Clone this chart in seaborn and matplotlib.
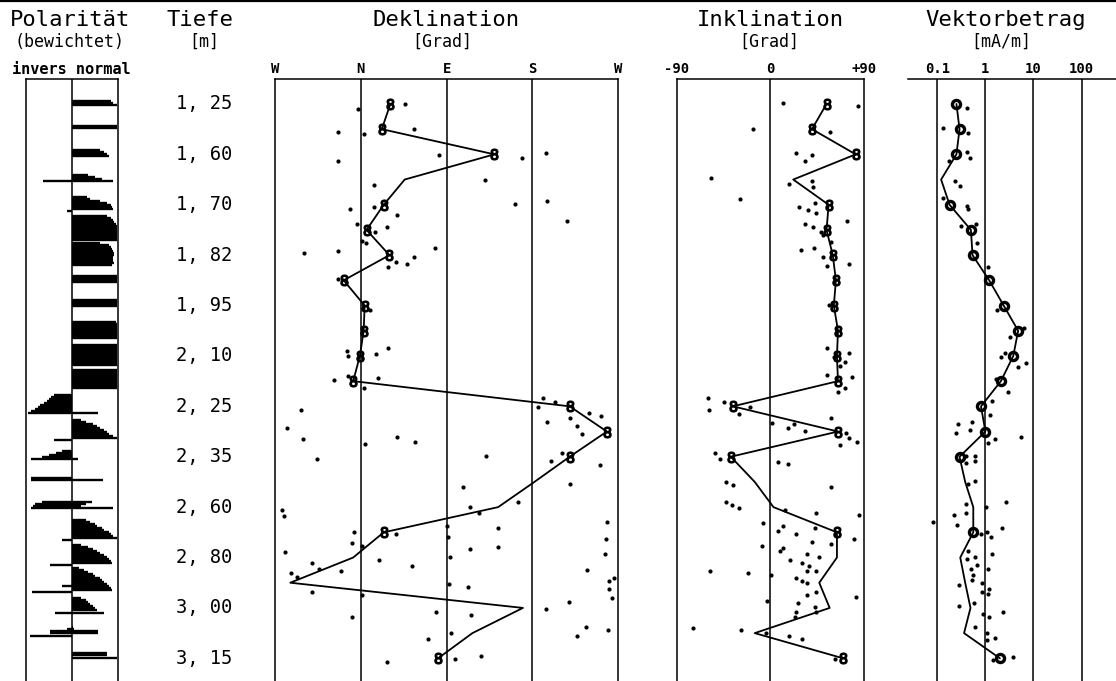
import matplotlib
matplotlib.use("Agg")
import matplotlib.pyplot as plt
import seaborn as sns
from matplotlib.lines import Line2D

# ---------------- data ----------------
depth_labels = ["1, 25", "1, 60", "1, 70", "1, 82", "1, 95", "2, 10",
                "2, 25", "2, 35", "2, 60", "2, 80", "3, 00", "3, 15"]
depth_label_pos = [0, 2, 4, 6, 8, 10, 12, 14, 16, 18, 20, 22]

samples = [0, 1, 2, 3, 4, 5, 6, 7, 8, 9, 10, 11, 12, 13, 14, 15, 16, 17, 18, 19, 20, 21, 22]

dek_line = [31, 22, 140, 46, 24, 6, 30, -18, 4, 3, -1, -8, 219, 258, 219, 182,
            144, 24, -8, -74, 170, 117, 81]
dek_circ = [0, 1, 2, 4, 5, 6, 7, 8, 9, 10, 11, 12, 13, 14, 17, 22]

inc_line = [54, 40, 82, 22, 56, 54, 60, 63, 61, 65, 64, 65, -36, 65, -38, -15,
            3, 64, 64, 47, 57, -15, 70]
inc_circ = [0, 1, 2, 4, 5, 6, 7, 8, 9, 10, 11, 12, 13, 14, 17, 22]

vek_line = [0.25, 0.29, 0.25, 0.12, 0.18, 0.50, 0.54, 1.2, 2.4, 4.8, 3.8, 2.1,
            0.81, 1.0, 0.29, 0.38, 0.56, 0.56, 0.30, 0.38, 0.49, 0.36, 2.0]
vek_circ = [0, 1, 2, 4, 5, 6, 7, 8, 9, 10, 11, 12, 13, 14, 17, 22]

dek_dot_pos = [0.21, 0.01, 1.10, 1.19, 0.99, 2.26, 2.04, 2.14, 1.93, 3.02, 3.21, 3.97,
               3.86, 4.63, 4.18, 4.09, 4.42, 4.76, 4.87, 5.09, 5.44, 5.53, 5.92, 5.82,
               5.70, 6.06, 6.26, 6.35, 6.48, 6.96, 8.17, 9.80, 10.01, 9.69, 9.91, 10.96,
               10.79, 10.86, 11.28, 11.68, 11.81, 12.01, 12.25, 12.37, 12.63, 12.47, 12.77,
               13.10, 12.14, 12.87, 13.31, 13.20, 13.40, 13.50, 14.10, 13.97, 13.86, 14.17,
               14.31, 15.08, 15.19, 15.79, 15.98, 16.22, 16.11, 16.34, 16.61, 16.97, 17.41,
               17.53, 17.08, 16.73, 17.17, 16.84, 17.57, 17.67, 17.27, 17.87, 17.78, 18.21,
               18.45, 18.54, 18.10, 18.32, 17.99, 18.49, 18.60, 18.76, 18.93, 18.81, 19.26,
               19.59, 19.05, 19.15, 19.38, 19.50, 19.75, 20.04, 20.15, 20.27, 20.38, 20.99,
               21.24, 20.77, 21.10, 20.87, 21.92, 22.04, 22.15]
dek_dot_deg = [-3, 46, -24, 3, 56, -24, 82, 169, 194, 130, 14, 162,
               195, 216, -11, 14, 38, -4, 27, 15, 1, 5, -60, -24,
               78, 56, 37, 48, 29, -24, 10, -14, -13, 29, 16, -28,
               -13, 18, 3, 191, 204, 186, 239, 252, 195, 219, 227,
               232, -63, -77, -61, 38, 57, 4, -46, 131, 211, 199,
               251, 219, 107, 165, 115, 124, -83, -81, 258, -7, -9,
               1, 37, 90, 91, 144, 144, 114, 257, 256, -79, -51,
               -44, -21, 19, 54, 93, 237, -73, -67, 260, 265, 260,
               263, 92, 112, -51, 1, 218, 194, 79, 116, -9, 95,
               70, 236, 227, 259, 126, 99, 27]

inc_dot_pos = [-0.03, 0.08, 1.00, 1.10, 1.93, 2.26, 2.04, 2.95, 3.17, 3.04, 3.28, 3.77,
               4.07, 4.21, 3.92, 4.31, 4.64, 4.76, 4.87, 5.07, 5.20, 5.81, 5.70, 6.06,
               6.45, 5.46, 6.34, 7.98, 9.70, 10.03, 9.89, 10.23, 10.40, 10.75, 10.82,
               11.28, 11.42, 11.68, 11.81, 12.14, 12.04, 12.31, 12.47, 12.65, 12.71, 12.87,
               12.96, 13.07, 13.27, 13.40, 13.52, 13.86, 14.10, 14.19, 14.30, 14.99, 15.11,
               15.19, 15.81, 15.91, 16.02, 16.11, 16.22, 16.31, 16.64, 16.73, 16.94, 17.05,
               16.83, 17.26, 17.39, 17.46, 17.54, 17.75, 17.63, 17.86, 17.96, 18.10, 18.21,
               18.32, 18.54, 18.52, 18.52, 18.60, 18.69, 18.80, 18.92, 19.02, 19.35, 19.48,
               19.56, 19.71, 19.79, 19.95, 20.15, 20.15, 20.37, 20.78, 20.87, 21.00, 21.10,
               21.22, 22.04]
inc_dot_deg = [12, 84, -17, 57, 25, 33, 40, -57, 18, 40, 41, -29,
               28, 36, 43, 44, 74, 33, 41, 49, 51, 29, 42, 51,
               54, 58, 76, 56, 54, 61, 76, 72, 67, 54, 78,
               72, 65, -60, -45, -59, -20, -30, 58, 2, 23, 17,
               33, 73, 76, 83, 67, -53, -48, 7, 17, -43, -36,
               58, -43, -37, -30, 14, 44, 85, -7, 12, 7, 25,
               43, 80, 40, 58, -8, 9, 12, 35, 47, 19, 30,
               37, 35, 44, -58, -21, 1, 25, 30, 35, 44, 35,
               82, -3, 27, 43, 25, 44, 24, -74, -28, -4, 18,
               30, 62]

vek_dot_pos = [0.17, 0.96, 1.14, 1.89, 2.13, 2.25, 3.04, 3.25, 3.73, 4.05, 4.18, 4.84,
               4.76, 5.53, 5.92, 6.48, 8.17, 8.90, 9.23, 10.03, 9.90, 10.27, 10.45, 10.93,
               11.42, 11.77, 12.34, 12.71, 13.04, 12.63, 12.94, 13.29, 13.20, 13.46, 13.97,
               13.97, 14.26, 14.17, 15.08, 14.95, 15.81, 15.89, 16.00, 16.31, 16.22, 16.61,
               16.71, 16.84, 17.06, 16.97, 17.17, 17.73, 17.86, 18.06, 17.96, 18.29, 18.46,
               18.69, 18.89, 18.46, 19.11, 19.02, 19.25, 19.35, 19.46, 19.91, 19.79, 20.15,
               20.25, 20.37, 20.77, 21.00, 21.20, 21.27, 21.93, 22.06]
vek_dot_val = [0.41, 0.13, 0.44, 0.41, 0.49, 0.175, 0.23, 0.30, 0.133, 0.41, 0.44, 0.31,
               0.64, 0.68, 0.61, 1.12, 1.72, 6.35, 3.24, 2.11, 2.55, 6.98, 4.83, 1.66,
               2.99, 1.35, 1.25, 0.27, 0.245, 0.52, 0.48, 1.58, 5.42, 1.15, 0.40,
               0.61, 0.40, 0.61, 0.44, 0.61, 2.68, 0.40, 1.03, 0.22, 0.39, 0.083,
               0.26, 2.18, 0.80, 1.10, 1.29, 0.44, 1.39, 0.41, 0.61, 0.66, 0.50,
               0.56, 0.52, 1.15, 0.286, 0.85, 1.21, 0.86, 1.15, 0.286, 0.58, 2.29,
               0.88, 1.19, 0.61, 1.06, 1.58, 1.10, 3.80, 1.42]

# polarity (weighted): one horizontal stroke per entry, normal to the right, invers to the left
pol_pos = [-0.12, -0.04, 0.04,
           0.87, 0.95,
           1.83, 1.90, 1.98, 2.06,
           2.82, 2.90, 2.98, 3.06,
           3.69, 3.77, 3.85, 3.93, 4.01, 4.09, 4.17, 4.25,
           4.44, 4.52, 4.60, 4.68, 4.76, 4.84, 4.92, 5.00, 5.08, 5.16, 5.24, 5.32, 5.40,
           5.52, 5.60, 5.67, 5.75, 5.83, 5.91, 5.99, 6.07, 6.15, 6.23, 6.31, 6.39,
           6.83, 6.90, 6.98, 7.06,
           7.78, 7.86, 7.94, 8.02,
           8.65, 8.73, 8.81, 8.89, 8.97, 9.05, 9.13, 9.21, 9.29,
           9.56, 9.64, 9.72, 9.80, 9.88, 9.96, 10.04, 10.12, 10.20, 10.28, 10.36,
           10.56, 10.63, 10.71, 10.79, 10.87, 10.95, 11.03, 11.11, 11.19, 11.27,
           11.55, 11.63, 11.71, 11.79, 11.87, 11.94, 12.02, 12.10, 12.18, 12.26,
           12.54, 12.62, 12.70, 12.78, 12.86, 12.94, 13.02, 13.10, 13.17, 13.25, 13.33,
           13.77, 13.85, 13.93, 14.01, 14.09,
           14.84, 14.92,
           15.79, 15.87, 15.95, 16.03,
           16.51, 16.59, 16.67, 16.75, 16.83, 16.90, 16.98, 17.06, 17.14, 17.22, 17.30,
           17.50, 17.58, 17.66, 17.74, 17.82, 17.90, 17.98, 18.06, 18.13, 18.21, 18.29,
           18.41, 18.49, 18.57, 18.65, 18.73, 18.81, 18.89, 18.97, 19.05, 19.13, 19.21, 19.29, 19.37,
           19.60, 19.68, 19.76, 19.84, 19.92, 20.00, 20.08, 20.20,
           20.75, 20.83, 20.91, 20.99, 21.11,
           21.79, 21.87, 21.98]
pol_normal = [0.85, 0.90, 0.98,
              0.98, 0.98,
              0.60, 0.70, 0.75, 0.80,
              0.35, 0.50, 0.65, 0.90,
              0.33, 0.40, 0.60, 0.75, 0.85, 0.88, 0.90, 0.00,
              0.75, 0.85, 0.90, 0.92, 0.95, 0.98, 0.98, 0.98, 0.98, 0.98, 0.98, 0.98, 0.98,
              0.60, 0.80, 0.85, 0.88, 0.90, 0.92, 0.92, 0.90, 0.90, 0.90, 0.92, 0.88,
              0.98, 0.98, 0.98, 0.98,
              0.98, 0.98, 0.98, 0.98,
              0.95, 0.98, 0.98, 0.98, 0.98, 0.98, 0.98, 0.98, 0.98,
              0.98, 0.98, 0.98, 0.98, 0.98, 0.98, 0.98, 0.98, 0.98, 0.98, 0.98,
              0.98, 0.98, 0.98, 0.98, 0.98, 0.98, 0.98, 0.98, 0.98, 0.98,
              0.00, 0.00, 0.00, 0.00, 0.00, 0.00, 0.00, 0.00, 0.00, 0.57,
              0.20, 0.30, 0.45, 0.55, 0.60, 0.70, 0.75, 0.80, 0.90, 0.98, 0.00,
              0.00, 0.00, 0.00, 0.00, 0.13,
              0.00, 0.67,
              0.43, 0.30, 0.20, 0.90,
              0.30, 0.40, 0.50, 0.55, 0.65, 0.70, 0.80, 0.85, 0.90, 0.98, 0.00,
              0.20, 0.35, 0.45, 0.55, 0.60, 0.70, 0.75, 0.80, 0.85, 0.88, 0.00,
              0.15, 0.25, 0.35, 0.45, 0.50, 0.60, 0.65, 0.70, 0.75, 0.80, 0.85, 0.87, 0.00,
              0.20, 0.30, 0.35, 0.40, 0.45, 0.50, 0.55, 0.70,
              0.03, 0.05, 0.57, 0.57, 0.00,
              0.75, 0.75, 0.98]
pol_invers = [0.00, 0.00, 0.00,
              0.00, 0.00,
              0.00, 0.00, 0.00, 0.00,
              0.00, 0.00, 0.00, 0.63,
              0.00, 0.00, 0.00, 0.00, 0.00, 0.00, 0.00, 0.10,
              0.00, 0.00, 0.00, 0.00, 0.00, 0.00, 0.00, 0.00, 0.00, 0.00, 0.00, 0.00, 0.00,
              0.00, 0.00, 0.00, 0.00, 0.00, 0.00, 0.00, 0.00, 0.00, 0.00, 0.00, 0.00,
              0.00, 0.00, 0.00, 0.00,
              0.00, 0.00, 0.00, 0.00,
              0.00, 0.00, 0.00, 0.00, 0.00, 0.00, 0.00, 0.00, 0.00,
              0.00, 0.00, 0.00, 0.00, 0.00, 0.00, 0.00, 0.00, 0.00, 0.00, 0.00,
              0.00, 0.00, 0.00, 0.00, 0.00, 0.00, 0.00, 0.00, 0.00, 0.00,
              0.40, 0.45, 0.50, 0.55, 0.60, 0.70, 0.75, 0.80, 0.90, 0.95,
              0.00, 0.00, 0.00, 0.00, 0.00, 0.00, 0.00, 0.00, 0.00, 0.00, 0.39,
              0.22, 0.35, 0.50, 0.65, 0.90,
              0.89, 0.89,
              0.65, 0.80, 0.85, 0.89,
              0.00, 0.00, 0.00, 0.00, 0.00, 0.00, 0.00, 0.00, 0.00, 0.00, 0.22,
              0.00, 0.00, 0.00, 0.00, 0.00, 0.00, 0.00, 0.00, 0.00, 0.00, 0.48,
              0.00, 0.00, 0.00, 0.00, 0.00, 0.00, 0.00, 0.00, 0.00, 0.22, 0.00, 0.00, 0.87,
              0.00, 0.00, 0.00, 0.00, 0.00, 0.00, 0.00, 0.37,
              0.00, 0.10, 0.48, 0.48, 0.91,
              0.00, 0.00, 0.00]

assert len(pol_pos) == len(pol_normal) == len(pol_invers)
assert len(dek_dot_pos) == len(dek_dot_deg)
assert len(inc_dot_pos) == len(inc_dot_deg)
assert len(vek_dot_pos) == len(vek_dot_val)

# ---------------- figure ----------------
sns.set_theme(style="white")
plt.rcParams['font.family'] = ['DejaVu Sans Mono', 'DejaVu Sans']
plt.rcParams['text.color'] = 'black'

W, H = 1116, 681
fig = plt.figure(figsize=(W / 100, H / 100), dpi=100)
fig.patch.set_facecolor('white')

TOP, BOT = 79, 681
YLIM = (22.9, -0.99)


def add_ax(x0, x1):
    ax = fig.add_axes([x0 / W, 1 - BOT / H, (x1 - x0) / W, (BOT - TOP) / H])
    ax.set_facecolor('none')
    ax.set_ylim(*YLIM)
    ax.set_yticks([])
    ax.set_ylabel('')
    ax.set_xlabel('')
    for sp in ax.spines.values():
        sp.set_color('black')
        sp.set_linewidth(1.1)
    ax.spines['bottom'].set_visible(False)
    ax.xaxis.tick_top()
    ax.tick_params(axis='x', length=0, pad=2, labelsize=10, colors='black')
    return ax


def fx(px):
    return px / W


def fy(py):
    return 1 - py / H


LW = 1.3
DOT = 9

# Polarität
axp = add_ax(26, 118)
axp.set_xlim(-1, 1)
axp.set_xticks([])
axp.axvline(0, color='black', lw=1.1)
axp.hlines(pol_pos, [-v for v in pol_invers], pol_normal, color='black', lw=1.7)

# Tiefe labels
axt = fig.add_axes([fx(150), 1 - BOT / H, fx(110), (BOT - TOP) / H])
axt.set_ylim(*YLIM)
axt.set_xlim(0, 1)
axt.axis('off')
for lab, pos in zip(depth_labels, depth_label_pos):
    axt.text(0.49, pos, lab, ha='center', va='center', fontsize=13.5)

# Deklination
axd = add_ax(275, 618.3)
axd.set_xlim(-90, 270)
for v in [0, 90, 180]:
    axd.axvline(v, color='black', lw=1.1)
sns.scatterplot(x=dek_dot_deg, y=dek_dot_pos, ax=axd, s=DOT, color='black', linewidth=0)
sns.lineplot(x=dek_line, y=samples, ax=axd, sort=False, estimator=None,
             color='black', lw=LW)
sns.scatterplot(x=[dek_line[i] for i in dek_circ], y=[samples[i] for i in dek_circ],
                ax=axd, marker='$8$', s=60, color='black', linewidth=1.0, edgecolor='black')
axd.set_xticks([-90, 0, 90, 180, 270])
axd.set_xticklabels(['W', 'N', 'E', 'S', 'W'], fontweight='bold')
axd.set_ylim(*YLIM)
axd.set_yticks([])

# Inklination
axi = add_ax(676.7, 864)
axi.set_xlim(-90, 90)
axi.axvline(0, color='black', lw=1.1)
sns.scatterplot(x=inc_dot_deg, y=inc_dot_pos, ax=axi, s=DOT, color='black', linewidth=0)
sns.lineplot(x=inc_line, y=samples, ax=axi, sort=False, estimator=None,
             color='black', lw=LW)
sns.scatterplot(x=[inc_line[i] for i in inc_circ], y=[samples[i] for i in inc_circ],
                ax=axi, marker='$8$', s=60, color='black', linewidth=1.0, edgecolor='black')
axi.set_xticks([-90, 0, 90])
axi.set_xticklabels(['-90', '0', '+90'], fontweight='bold')
axi.set_ylim(*YLIM)
axi.set_yticks([])

# Vektorbetrag
axv = add_ax(908, 1116)
axv.set_xscale('log')
axv.set_xlim(0.0246, 519)
axv.spines['left'].set_visible(False)
axv.spines['right'].set_visible(False)
for v in [0.1, 1, 10, 100]:
    axv.axvline(v, color='black', lw=1.1)
sns.scatterplot(x=vek_dot_val, y=vek_dot_pos, ax=axv, s=DOT, color='black', linewidth=0)
sns.lineplot(x=vek_line, y=samples, ax=axv, sort=False, estimator=None,
             color='black', lw=LW)
sns.scatterplot(x=[vek_line[i] for i in vek_circ], y=[samples[i] for i in vek_circ],
                ax=axv, marker='o', s=34, facecolor='white', edgecolor='black', linewidth=2.4)
axv.set_xticks([0.1, 1, 10, 100])
axv.set_xticklabels(['0.1', '1', '10', '100'], fontweight='bold')
axv.minorticks_off()
axv.tick_params(axis='x', which='both', length=0)
axv.set_ylim(*YLIM)
axv.set_yticks([])

# headers
TS, SS = 16, 12
fig.text(fx(70), fy(20), 'Polarität', ha='center', va='center', fontsize=TS)
fig.text(fx(70), fy(42), '(bewichtet)', ha='center', va='center', fontsize=SS)
fig.text(fx(71), fy(70), 'invers normal', ha='center', va='center', fontsize=11, fontweight='bold')
fig.text(fx(200), fy(20), 'Tiefe', ha='center', va='center', fontsize=TS)
fig.text(fx(204), fy(42), '[m]', ha='center', va='center', fontsize=SS)
fig.text(fx(446), fy(20), 'Deklination', ha='center', va='center', fontsize=TS)
fig.text(fx(442), fy(42), '[Grad]', ha='center', va='center', fontsize=SS)
fig.text(fx(770), fy(20), 'Inklination', ha='center', va='center', fontsize=TS)
fig.text(fx(769), fy(42), '[Grad]', ha='center', va='center', fontsize=SS)
fig.text(fx(1006), fy(20), 'Vektorbetrag', ha='center', va='center', fontsize=TS)
fig.text(fx(1001), fy(42), '[mA/m]', ha='center', va='center', fontsize=SS)

fig.add_artist(Line2D([0, 1], [fy(1), fy(1)], transform=fig.transFigure, color='black', lw=1.6))

fig.savefig('out.png', dpi=100, facecolor='white')
